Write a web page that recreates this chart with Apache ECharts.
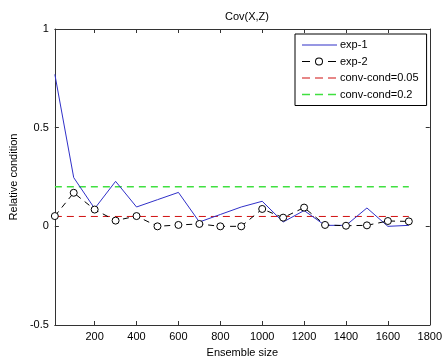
<!DOCTYPE html>
<html><head><meta charset="utf-8">
<script src="https://cdn.jsdelivr.net/npm/echarts@6/dist/echarts.min.js"></script>
<style>html,body{margin:0;padding:0;background:#fff}#c{width:445px;height:363px}</style>
</head><body><div id="c"></div>
<script>
const xs = [10,100,200,300,400,500,600,700,800,900,1000,1100,1200,1300,1400,1500,1600,1700];
const exp1 = [0.77,0.247,0.09,0.228,0.098,0.135,0.172,0.022,0.06,0.098,0.127,0.022,0.08,0.005,0.005,0.093,0.0,0.005];
const exp2 = [0.052,0.17,0.085,0.029,0.052,0.0,0.007,0.012,0.0,0.0,0.088,0.044,0.095,0.007,0.003,0.005,0.027,0.025];
const condLow = 0.05, condHigh = 0.2;
const xTicks = [200,400,600,800,1000,1200,1400,1600,1800];
const yTicks = [-0.5,0,0.5,1];

const font = 'Liberation Sans, Arial, sans-serif';
const chart = echarts.init(document.getElementById('c'), null, {renderer:'canvas'});
const pair = (a,b)=>a.map((v,i)=>[v,b[i]]);
const bounds = 'M0,0H0.01V0.01H0Z M34.99,11.99H35V12H34.99Z ';
const iconSolid = 'path://' + bounds + 'M0,5.5H35V6.5H0Z';
const iconDash = 'path://' + bounds + 'M0,5.5H8V6.5H0Z M13,5.5H21V6.5H13Z M26,5.5H34V6.5H26Z';
const iconDashThick = 'path://' + bounds + 'M0,5.2H8V6.8H0Z M13,5.2H21V6.8H13Z M26,5.2H34V6.8H26Z';
const iconCircle = 'path://' + bounds + 'M0,5.5H8V6.5H0Z M26,5.5H34V6.5H26Z M21,6A4,4 0 1,0 13,6A4,4 0 1,0 21,6Z M20,6A3,3 0 1,1 14,6A3,3 0 1,1 20,6Z';
const axisCommon = {
  axisLine:{show:true,onZero:false,lineStyle:{color:'#333',width:1}},
  splitLine:{show:false}
};
const tick = {show:true,inside:true,length:4,lineStyle:{color:'#333'}};
chart.setOption({
  animation:false,
  backgroundColor:'#fff',
  title:{text:'Cov(X,Z)',left:242,top:6,textAlign:'center',textStyle:{fontFamily:font,fontSize:11,fontWeight:'normal',color:'#000'}},
  grid:{left:53,right:14,top:29,bottom:38,show:false},
  legend:{
    orient:'vertical',left:295,top:34,width:130,
    backgroundColor:'#fff',borderColor:'#000',borderWidth:1,
    padding:[5,8,5,7],itemGap:4.5,itemWidth:35,itemHeight:12,
    textStyle:{fontFamily:font,fontSize:11,color:'#000',padding:[0,0,0,-2]},
    data:[
      {name:'exp-1',icon:iconSolid,itemStyle:{color:'#3030c8',borderWidth:0}},
      {name:'exp-2',icon:iconCircle,itemStyle:{color:'#000',borderWidth:0}},
      {name:'conv-cond=0.05',icon:iconDash,itemStyle:{color:'#d01010',borderWidth:0}},
      {name:'conv-cond=0.2',icon:iconDashThick,itemStyle:{color:'#40e040',borderWidth:0}}
    ]
  },
  xAxis:[
    Object.assign({type:'value',min:10,max:1800,position:'bottom',
      name:'Ensemble size',nameLocation:'middle',nameGap:22,
      nameTextStyle:{fontFamily:font,fontSize:11,color:'#000'},
      axisLabel:{customValues:xTicks,fontFamily:font,fontSize:11,color:'#000',margin:6,formatter:v=>String(v)},
      axisTick:Object.assign({customValues:xTicks},tick)},axisCommon),
    Object.assign({type:'value',min:10,max:1800,position:'top',
      axisLabel:{show:false},axisTick:Object.assign({customValues:xTicks},tick)},axisCommon)
  ],
  yAxis:[
    Object.assign({type:'value',min:-0.5,max:1,interval:0.5,position:'left',
      name:'Relative condition',nameLocation:'middle',nameGap:28,
      nameTextStyle:{fontFamily:font,fontSize:11,color:'#000'},
      axisTick:tick,
      axisLabel:{fontFamily:font,fontSize:11,color:'#000',margin:6,formatter:v=>String(v)}},axisCommon),
    Object.assign({type:'value',min:-0.5,max:1,interval:0.5,position:'right',
      axisTick:tick,axisLabel:{show:false}},axisCommon)
  ],
  series:[
    {name:'exp-1',type:'line',data:pair(xs,exp1),showSymbol:false,symbol:'none',
      lineStyle:{color:'#3030c8',width:1},itemStyle:{color:'#3030c8'},z:3},
    {name:'exp-2',type:'line',data:pair(xs,exp2),symbol:'circle',symbolSize:7,
      lineStyle:{color:'#000',width:1,type:[6,5]},
      itemStyle:{color:'#fff',borderColor:'#000',borderWidth:1},z:4},
    {name:'conv-cond=0.05',type:'line',data:[[xs[0],condLow],[xs[xs.length-1],condLow]],symbol:'none',
      lineStyle:{color:'#d01010',width:1,type:[7,5]},itemStyle:{color:'#d01010'},z:2},
    {name:'conv-cond=0.2',type:'line',data:[[xs[0],condHigh],[xs[xs.length-1],condHigh]],symbol:'none',
      lineStyle:{color:'#40e040',width:1.5,type:[7,5]},itemStyle:{color:'#40e040'},z:2}
  ]
});
</script></body></html>
